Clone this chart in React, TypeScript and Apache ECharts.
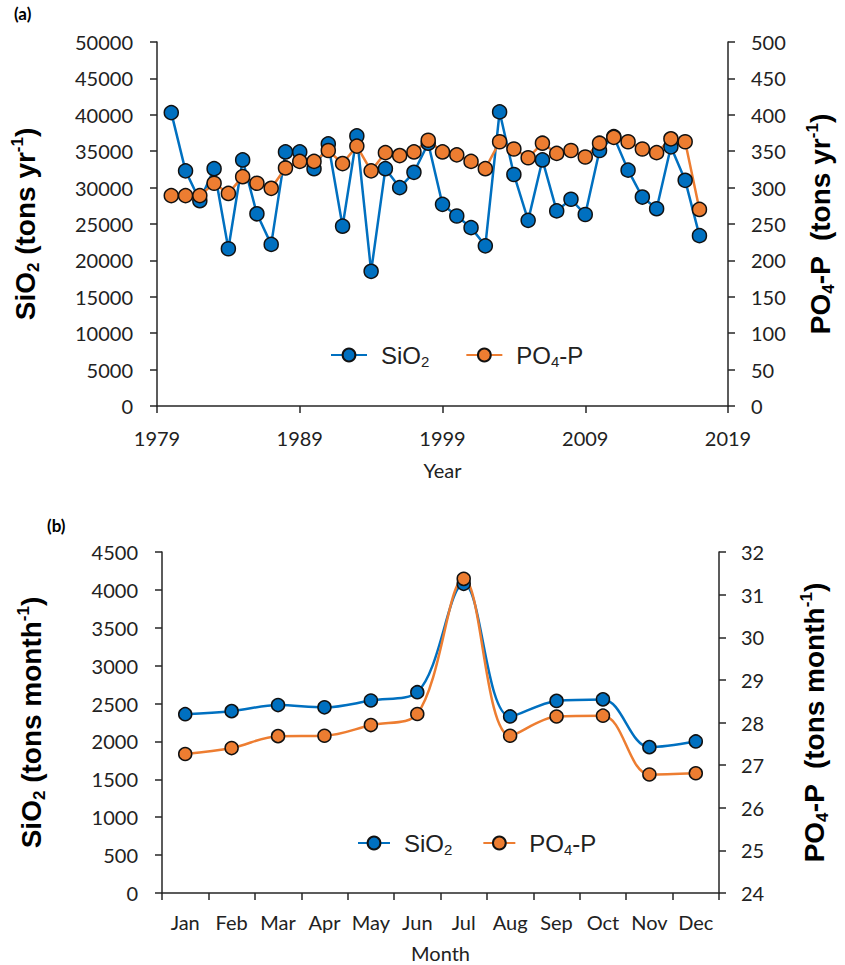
import React, { useEffect, useRef } from "react";
import * as echarts from "echarts";

const years = [1980, 1981, 1982, 1983, 1984, 1985, 1986, 1987, 1988, 1989, 1990, 1991, 1992, 1993, 1994, 1995, 1996, 1997, 1998, 1999, 2000, 2001, 2002, 2003, 2004, 2005, 2006, 2007, 2008, 2009, 2010, 2011, 2012, 2013, 2014, 2015, 2016, 2017];
const sio2Annual = [40300, 32300, 28200, 32600, 21600, 33800, 26400, 22200, 34900, 34900, 32600, 36000, 24700, 37100, 18500, 32600, 30000, 32100, 36100, 27700, 26100, 24500, 22000, 40400, 31800, 25500, 33800, 26800, 28400, 26300, 35100, 37000, 32400, 28700, 27100, 35600, 31000, 23400];
const po4Annual = [289, 289, 289, 306, 292, 315, 306, 299, 327, 336, 336, 351, 333, 357, 323, 348, 344, 349, 365, 349, 345, 336, 326, 363, 353, 341, 361, 347, 351, 342, 361, 369, 363, 353, 348, 367, 363, 270];
const yearTicks = [1979, 1989, 1999, 2009, 2019];

const months = ["Jan", "Feb", "Mar", "Apr", "May", "Jun", "Jul", "Aug", "Sep", "Oct", "Nov", "Dec"];
const sio2Monthly = [2360, 2400, 2480, 2450, 2540, 2650, 4080, 2330, 2535, 2555, 1925, 2000];
const po4Monthly = [27.26, 27.4, 27.68, 27.69, 27.94, 28.2, 31.37, 27.69, 28.14, 28.16, 26.78, 26.81];

const BLUE = "#0070C0";
const ORANGE = "#ED7D31";
const AXIS = "#262626";
const TICK_FONT = "Lato";
const TITLE_FONT = "Liberation Sans";

const titleRich = {
  n: { fontSize: 28, fontWeight: "bold", fontFamily: TITLE_FONT, color: "#000", lineHeight: 33 },
  s: { fontSize: 17, fontWeight: "bold", fontFamily: TITLE_FONT, color: "#000", lineHeight: 17, verticalAlign: "bottom" },
  u: { fontSize: 17, fontWeight: "bold", fontFamily: TITLE_FONT, color: "#000", lineHeight: 22, verticalAlign: "top" },
};

const legendRich = {
  g: { width: 9 },
  n: { fontSize: 24, fontFamily: TITLE_FONT, color: "#222", lineHeight: 28 },
  s: { fontSize: 15, fontFamily: TITLE_FONT, color: "#222", lineHeight: 15, verticalAlign: "bottom" },
};

const legendFormatter = (name: string) =>
  name === "SiO2" ? "{g|}{n|SiO}{s|2}" : "{g|}{n|PO}{s|4}{n|-P}";

const plain = (v: number) => String(v);

function axisBase(extra: any) {
  return {
    axisLine: { show: true, lineStyle: { color: AXIS, width: 1.5 } },
    axisTick: { show: true, inside: false, length: 7, lineStyle: { color: AXIS, width: 1.5 } },
    splitLine: { show: false },
    ...extra,
  };
}

export default function App() {
  const ref = useRef<HTMLDivElement>(null);
  useEffect(() => {
    document.body.style.margin = "0";
    if (!ref.current) return;
    const chart = echarts.init(ref.current, undefined, { renderer: "svg" });
    const labelStyle = { fontFamily: TICK_FONT, fontSize: 20, color: "#222" };

    const option: any = {
      animation: false,
      backgroundColor: "#fff",
      graphic: [
        { type: "text", left: 14, top: 5, style: { text: "(a)", font: "bold 17px Lato", fill: "#000" } },
        { type: "text", left: 47, top: 517, style: { text: "(b)", font: "bold 17px Lato", fill: "#000" } },
      ],
      grid: [
        { left: 157, right: 112, top: 42, height: 364 },
        { left: 162, right: 126, top: 552, height: 341 },
      ],
      legend: [
        {
          left: 325, top: 338, itemWidth: 36, itemHeight: 16, itemGap: 36,
          data: ["SiO2", "PO4-P"], formatter: legendFormatter,
          textStyle: { rich: legendRich }, selectedMode: false,
        },
        {
          left: 352, top: 826, itemWidth: 32, itemHeight: 16, itemGap: 30,
          data: ["SiO2", "PO4-P"], formatter: legendFormatter,
          textStyle: { rich: legendRich }, selectedMode: false,
        },
      ],
      xAxis: [
        axisBase({
          type: "value", gridIndex: 0, min: 1979, max: 2019,
          axisTick: { show: true, length: 7, lineStyle: { color: AXIS, width: 1.5 }, customValues: yearTicks },
          axisLabel: { ...labelStyle, margin: 22, formatter: plain, customValues: yearTicks },
          name: "Year", nameLocation: "middle", nameGap: 54,
          nameTextStyle: { fontFamily: TICK_FONT, fontSize: 20, color: "#222" },
        }),
        axisBase({
          type: "category", gridIndex: 1, data: months, boundaryGap: true,
          axisTick: { show: true, length: 7, alignWithLabel: false, lineStyle: { color: AXIS, width: 1.5 } },
          axisLabel: { ...labelStyle, margin: 19, interval: 0 },
          name: "Month", nameLocation: "middle", nameGap: 50,
          nameTextStyle: { fontFamily: TICK_FONT, fontSize: 20, color: "#222" },
        }),
      ],
      yAxis: [
        axisBase({
          type: "value", gridIndex: 0, min: 0, max: 50000, interval: 5000, position: "left",
          axisLabel: { ...labelStyle, margin: 24, formatter: plain },
          name: "{n|SiO}{s|2}{n| (tons yr}{u|-1}{n|)}", nameLocation: "middle", nameRotate: 90, nameGap: 115,
          nameTextStyle: { rich: titleRich },
        }),
        axisBase({
          type: "value", gridIndex: 0, min: 0, max: 500, interval: 50, position: "right",
          axisLabel: { ...labelStyle, margin: 23, formatter: plain },
          name: "{n|PO}{s|4}{n|-P  (tons yr}{u|-1}{n|)}", nameLocation: "middle", nameRotate: 90, nameGap: 76,
          nameTextStyle: { rich: titleRich },
        }),
        axisBase({
          type: "value", gridIndex: 1, min: 0, max: 4500, interval: 500, position: "left",
          axisLabel: { ...labelStyle, margin: 24, formatter: plain },
          name: "{n|SiO}{s|2}{n| (tons month}{u|-1}{n|)}", nameLocation: "middle", nameRotate: 90, nameGap: 114,
          nameTextStyle: { rich: titleRich },
        }),
        axisBase({
          type: "value", gridIndex: 1, min: 24, max: 32, interval: 1, position: "right",
          axisLabel: { ...labelStyle, margin: 22, formatter: plain },
          name: "{n|PO}{s|4}{n|-P  (tons month}{u|-1}{n|)}", nameLocation: "middle", nameRotate: 90, nameGap: 79,
          nameTextStyle: { rich: titleRich },
        }),
      ],
      series: [
        {
          name: "SiO2", type: "line", xAxisIndex: 0, yAxisIndex: 0,
          data: years.map((y, i) => [y, sio2Annual[i]]),
          symbol: "circle", symbolSize: 14,
          lineStyle: { color: BLUE, width: 2.5 },
          itemStyle: { color: BLUE, borderColor: "#111", borderWidth: 1.5 },
        },
        {
          name: "PO4-P", type: "line", xAxisIndex: 0, yAxisIndex: 1,
          data: years.map((y, i) => [y, po4Annual[i]]),
          symbol: "circle", symbolSize: 14,
          lineStyle: { color: ORANGE, width: 2.5 },
          itemStyle: { color: ORANGE, borderColor: "#111", borderWidth: 1.5 },
        },
        {
          name: "SiO2", type: "line", xAxisIndex: 1, yAxisIndex: 2,
          data: sio2Monthly, smooth: 0.35,
          symbol: "circle", symbolSize: 13,
          lineStyle: { color: BLUE, width: 2.5 },
          itemStyle: { color: BLUE, borderColor: "#111", borderWidth: 1.5 },
        },
        {
          name: "PO4-P", type: "line", xAxisIndex: 1, yAxisIndex: 3,
          data: po4Monthly, smooth: 0.35,
          symbol: "circle", symbolSize: 13,
          lineStyle: { color: ORANGE, width: 2.5 },
          itemStyle: { color: ORANGE, borderColor: "#111", borderWidth: 1.5 },
        },
      ],
    };
    chart.setOption(option);
    return () => chart.dispose();
  }, []);
  return <div ref={ref} style={{ width: 845, height: 965 }} />;
}
